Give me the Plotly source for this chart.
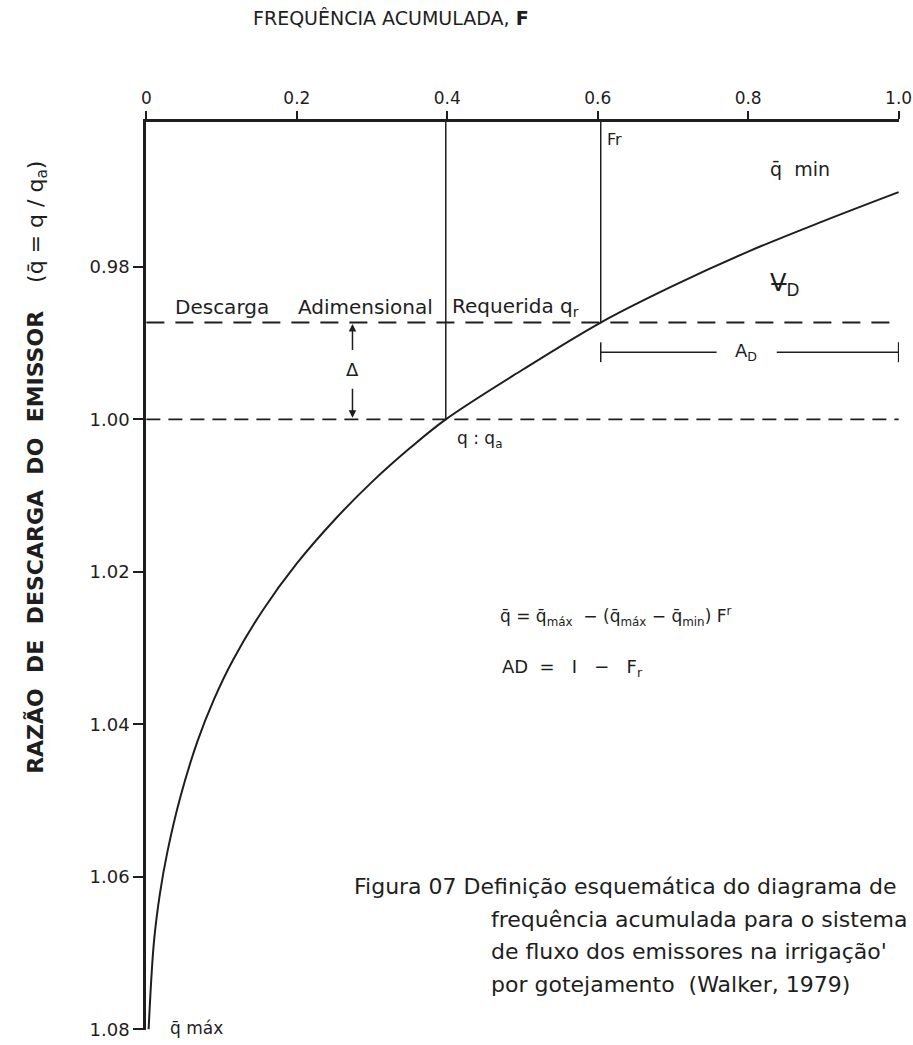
import plotly.graph_objects as go

# ---- data ----
F_curve = [0.003, 0.010, 0.018, 0.028, 0.045, 0.068, 0.090, 0.115, 0.155, 0.200,
           0.250, 0.300, 0.350, 0.398, 0.500, 0.604, 0.700, 0.800, 0.900, 1.000]
q_curve = [1.0800, 1.0686, 1.0622, 1.0567, 1.0496, 1.0422, 1.0367, 1.0316, 1.0250, 1.0189,
           1.0132, 1.0082, 1.0038, 1.0000, 0.9935, 0.9873, 0.9825, 0.9780, 0.9740, 0.9702]

x_ticks = [0, 0.2, 0.4, 0.6, 0.8, 1.0]
x_tick_labels = ["0", "0.2", "0.4", "0.6", "0.8", "1.0"]
y_ticks = [0.98, 1.00, 1.02, 1.04, 1.06, 1.08]
y_tick_labels = ["0.98", "1.00", "1.02", "1.04", "1.06", "1.08"]

F_a, q_a = 0.398, 1.000      # q = q_a
F_r, q_r = 0.604, 0.9873     # required discharge
q_top = 0.961                # top of the chart (axis line)
q_bottom = 1.080
F_delta = 0.274              # position of the delta arrow
q_AD = 0.9912                # level of the A_D bracket

INK = "#1e1e1e"
FONT = "DejaVu Sans"

fig = go.Figure()

# cumulative frequency curve
fig.add_trace(go.Scatter(x=F_curve, y=q_curve, mode="lines",
                         line=dict(color=INK, width=2, shape="spline", smoothing=1.0),
                         hoverinfo="skip"))
# dashed horizontal lines
fig.add_trace(go.Scatter(x=[0, 1.0], y=[q_a, q_a], mode="lines",
                         line=dict(color=INK, width=1.8, dash="14px,8px"), hoverinfo="skip"))
fig.add_trace(go.Scatter(x=[0, 1.0], y=[q_r, q_r], mode="lines",
                         line=dict(color=INK, width=1.8, dash="18px,11px"), hoverinfo="skip"))
# vertical lines
fig.add_trace(go.Scatter(x=[F_a, F_a], y=[q_top, q_a], mode="lines",
                         line=dict(color=INK, width=1.5), hoverinfo="skip"))
fig.add_trace(go.Scatter(x=[F_r, F_r], y=[q_top, q_r], mode="lines",
                         line=dict(color=INK, width=1.5), hoverinfo="skip"))
# A_D bracket
fig.add_trace(go.Scatter(x=[F_r, 0.758, None, 0.838, 1.0], y=[q_AD, q_AD, None, q_AD, q_AD],
                         mode="lines", line=dict(color=INK, width=1.5), hoverinfo="skip"))
fig.add_trace(go.Scatter(x=[F_r, F_r, None, 1.0, 1.0],
                         y=[q_AD - 0.0013, q_AD + 0.0013, None, q_AD - 0.0013, q_AD + 0.0013],
                         mode="lines", line=dict(color=INK, width=1.5), hoverinfo="skip"))

annotations = []

def txt(x, y, text, size=17, xanchor="left", yanchor="middle", **kw):
    annotations.append(dict(x=x, y=y, xref="x", yref="y", text=text, showarrow=False,
                            xanchor=xanchor, yanchor=yanchor,
                            font=dict(family=FONT, size=size, color=INK), **kw))

# delta arrows
annotations.append(dict(x=F_delta, y=q_r + 0.0002, ax=F_delta, ay=0.9911, xref="x", yref="y",
                        axref="x", ayref="y", text="", showarrow=True, arrowhead=2,
                        arrowsize=1, arrowwidth=1.5, arrowcolor=INK))
annotations.append(dict(x=F_delta, y=q_a - 0.0002, ax=F_delta, ay=0.9958, xref="x", yref="y",
                        axref="x", ayref="y", text="", showarrow=True, arrowhead=2,
                        arrowsize=1, arrowwidth=1.5, arrowcolor=INK))
txt(F_delta, 0.9934, "Δ", size=18, xanchor="center")

txt(0.036, 0.9853, "Descarga", size=20)
txt(0.1995, 0.9853, "Adimensional", size=20)
txt(0.404, 0.9853, "Requerida q<sub>r</sub>", size=20)
txt(0.610, 0.96325, "Fr", size=16)
txt(0.826, 0.9672, "q̄  min", size=19)
txt(0.826, 0.9823, "V̶<sub>D</sub>", size=24)
txt(0.797, q_AD, "A<sub>D</sub>", size=18, xanchor="center")
txt(0.410, 1.0027, "q : q<sub>a</sub>", size=17)
txt(0.029, 1.0798, "q̄ máx", size=17)

txt(0.467, 1.0258, "q̄ = q̄<sub>máx</sub>  − (q̄<sub>máx</sub> − q̄<sub>min</sub>) F<sup>r</sup>", size=17)
txt(0.470, 1.0326, "AD  =   I   −   F<sub>r</sub>", size=18)

txt(0.274, 1.0613, "Figura 07 Definição esquemática do diagrama de", size=22)
txt(0.455, 1.0656, "frequência acumulada para o sistema", size=22)
txt(0.455, 1.0698, "de fluxo dos emissores na irrigação'", size=22)
txt(0.455, 1.0741, "por gotejamento  (Walker, 1979)", size=22)

# axis titles
annotations.append(dict(x=0.325, y=1.115, xref="paper", yref="paper",
                        text="FREQUÊNCIA ACUMULADA, <b>F</b>", showarrow=False,
                        xanchor="center", yanchor="middle",
                        font=dict(family=FONT, size=19, color=INK)))
annotations.append(dict(x=-0.145, y=0.62, xref="paper", yref="paper", textangle=-90,
                        text="<b>RAZÃO  DE  DESCARGA  DO  EMISSOR</b>    (q̄ = q / q<sub>a</sub>)",
                        showarrow=False, xanchor="center", yanchor="middle",
                        font=dict(family=FONT, size=22, color=INK)))

fig.update_layout(
    width=913, height=1045,
    margin=dict(l=146, r=14, t=122, b=15, autoexpand=False),
    paper_bgcolor="white", plot_bgcolor="white",
    showlegend=False,
    annotations=annotations,
    xaxis=dict(range=[-0.0005, 1.0005], side="top", tickvals=x_ticks, ticktext=x_tick_labels,
               showline=True, linecolor=INK, linewidth=2.5, ticks="outside", ticklen=8,
               tickwidth=1.5, tickcolor=INK, showgrid=False, zeroline=False,
               ticklabeloverflow="allow", automargin=False,
               tickfont=dict(family=FONT, size=17, color=INK)),
    yaxis=dict(range=[q_bottom + 0.0001, q_top], tickvals=y_ticks, ticktext=y_tick_labels,
               showline=True, linecolor=INK, linewidth=2.5, ticks="outside", ticklen=10,
               tickwidth=1.5, tickcolor=INK, showgrid=False, zeroline=False,
               ticklabeloverflow="allow", automargin=False,
               tickfont=dict(family=FONT, size=18, color=INK)),
)

fig.write_html("out.html")
